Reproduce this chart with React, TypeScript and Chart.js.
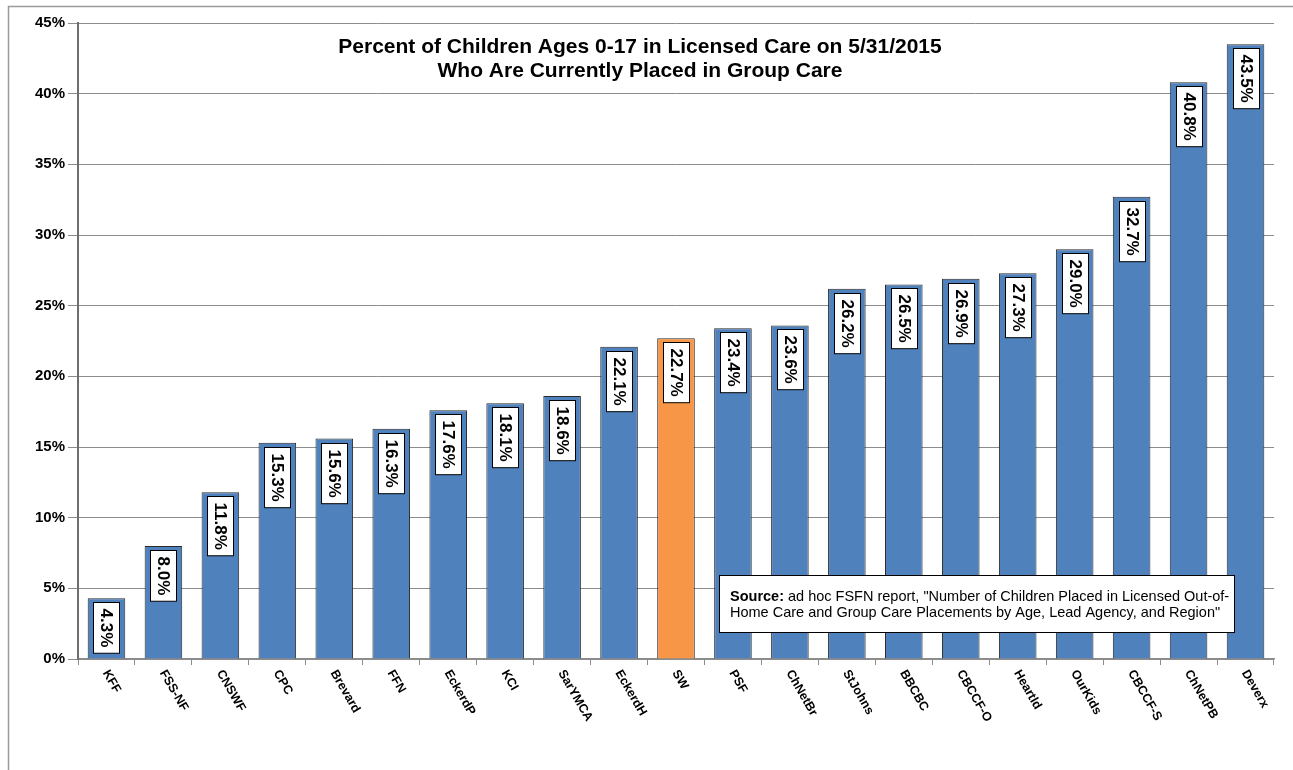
import { useEffect, useRef } from "react";
import { Chart, registerables } from "chart.js";

Chart.register(...registerables);

const categories = [
  "KFF", "FSS-NF", "CNSWF", "CPC", "Brevard", "FFN", "EckerdP", "KCI", "SarYMCA", "EckerdH", "SW",
  "PSF", "ChNetBr", "StJohns", "BBCBC", "CBCCF-O", "Heartld", "OurKids", "CBCCF-S", "ChNetPB", "Deverx",
];
const values = [
  4.3, 8.0, 11.8, 15.3, 15.6, 16.3, 17.6, 18.1, 18.6, 22.1, 22.7,
  23.4, 23.6, 26.2, 26.5, 26.9, 27.3, 29.0, 32.7, 40.8, 43.5,
];
const highlighted = ["SW"];
const titleLines = [
  "Percent of Children Ages 0-17 in Licensed Care on 5/31/2015",
  "Who Are Currently Placed in Group Care",
];
const sourceBold = "Source:";
const sourceLines = [
  " ad hoc FSFN report, \"Number of Children Placed in Licensed Out-of-",
  "Home Care and Group Care Placements by Age, Lead Agency, and Region\"",
];
const yMax = 45;
const yStep = 5;

const FONT = "'Liberation Sans', Arial, sans-serif";
const BLUE = "#4F81BD";
const ORANGE = "#F79646";

const decorPlugin = {
  id: "decor",
  beforeDraw(chart: any) {
    const ctx = chart.ctx;
    ctx.save();
    ctx.fillStyle = "#ffffff";
    ctx.fillRect(0, 0, chart.width, chart.height);
    ctx.strokeStyle = "#9a9a9a";
    ctx.lineWidth = 1.5;
    ctx.beginPath();
    ctx.moveTo(8.5, chart.height);
    ctx.lineTo(8.5, 6.5);
    ctx.lineTo(chart.width, 6.5);
    ctx.stroke();
    ctx.restore();
  },
  afterDatasetsDraw(chart: any) {
    const ctx = chart.ctx;
    const meta = chart.getDatasetMeta(0);
    ctx.save();
    ctx.font = `bold 17px ${FONT}`;
    meta.data.forEach((el: any, i: number) => {
      const text = values[i].toFixed(1) + "%";
      const w = ctx.measureText(text).width;
      ctx.save();
      ctx.translate(Math.round(el.x) + 0.5, Math.round(el.y) + 4.5);
      ctx.rotate(Math.PI / 2);
      ctx.fillStyle = "#ffffff";
      ctx.fillRect(0, -13, w + 12, 26);
      ctx.strokeStyle = "#000000";
      ctx.lineWidth = 1;
      ctx.strokeRect(0, -13, w + 12, 26);
      ctx.fillStyle = "#000000";
      ctx.textAlign = "left";
      ctx.textBaseline = "middle";
      ctx.fillText(text, 6, 1);
      ctx.restore();
    });
    ctx.restore();
  },
  afterDraw(chart: any) {
    const ctx = chart.ctx;
    const xs = chart.scales.x;
    ctx.save();
    // x labels rotated
    ctx.font = `bold 12.5px ${FONT}`;
    ctx.fillStyle = "#000000";
    ctx.textAlign = "left";
    ctx.textBaseline = "middle";
    categories.forEach((c, i) => {
      const x = xs.getPixelForTick(i);
      ctx.save();
      ctx.translate(x - 1, xs.top + 12);
      ctx.rotate((60 * Math.PI) / 180);
      ctx.fillText(c, 0, 0);
      ctx.restore();
    });
    // title
    ctx.font = `bold 21px ${FONT}`;
    ctx.textAlign = "center";
    ctx.textBaseline = "alphabetic";
    ctx.fillText(titleLines[0], 640, 53);
    ctx.fillText(titleLines[1], 640, 77);
    // source box
    const bx = 719.5, by = 575.5, bw = 515, bh = 57;
    ctx.fillStyle = "#ffffff";
    ctx.fillRect(bx, by, bw, bh);
    ctx.strokeStyle = "#000000";
    ctx.lineWidth = 1;
    ctx.strokeRect(bx, by, bw, bh);
    ctx.fillStyle = "#000000";
    ctx.textAlign = "left";
    ctx.font = `bold 14.5px ${FONT}`;
    ctx.fillText(sourceBold, 730, 601);
    const bwid = ctx.measureText(sourceBold).width;
    ctx.font = `14.5px ${FONT}`;
    ctx.fillText(sourceLines[0], 730 + bwid, 601);
    ctx.fillText(sourceLines[1], 730, 617);
    ctx.restore();
  },
};

export default function App() {
  const ref = useRef<HTMLCanvasElement>(null);
  useEffect(() => {
    if (!ref.current) return;
    const chart = new Chart(ref.current, {
      type: "bar",
      data: {
        labels: categories,
        datasets: [
          {
            data: values,
            backgroundColor: categories.map((c) => (highlighted.includes(c) ? ORANGE : BLUE)),
            borderColor: "#2a2a2a",
            borderWidth: 1,
            borderSkipped: "bottom",
            categoryPercentage: 1,
            barPercentage: 0.66,
          },
        ],
      },
      options: {
        responsive: false,
        animation: false,
        layout: { padding: { top: 23, right: 19, bottom: 0, left: 0 } },
        plugins: {
          legend: { display: false },
          tooltip: { enabled: false },
          title: { display: false },
        },
        scales: {
          x: {
            offset: true,
            grid: {
              display: true,
              offset: true,
              drawOnChartArea: false,
              drawTicks: true,
              tickLength: 6,
              color: "#8c8c8c",
            },
            border: { display: true, color: "#8c8c8c", width: 1.5 },
            ticks: { display: false },
            afterFit: (s: any) => {
              s.height = 111;
            },
          },
          y: {
            min: 0,
            max: yMax,
            ticks: {
              stepSize: yStep,
              color: "#000000",
              font: { family: FONT, size: 15, weight: "bold" },
              padding: 3,
              callback: (v: any) => `${v}%`,
            },
            grid: { color: "#8c8c8c", lineWidth: 1, tickLength: 10 },
            border: { display: true, color: "#6e6e6e", width: 2 },
            afterFit: (s: any) => {
              s.width = 78;
            },
          },
        },
      },
      plugins: [decorPlugin],
    });
    return () => chart.destroy();
  }, []);
  return (
    <div style={{ position: "fixed", left: 0, top: 0, width: 1293, height: 770, background: "#fff" }}>
      <canvas ref={ref} width={1293} height={770} style={{ display: "block" }} />
    </div>
  );
}
